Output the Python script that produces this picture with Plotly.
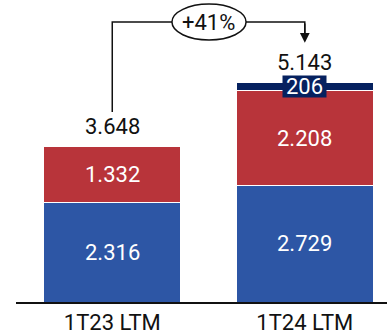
import plotly.graph_objects as go

categories = ["1T23 LTM", "1T24 LTM"]
blue_vals = [2316, 2729]
red_vals = [1332, 2208]
navy_vals = [0, 206]
growth_label = "+41%"

BLUE = "#2D56A5"
RED = "#B8343A"
NAVY = "#06215F"
FONT = "Roboto"
FS = 22

def fmt(v):
    return f"{v:,}".replace(",", ".")

totals = [b + r + n for b, r, n in zip(blue_vals, red_vals, navy_vals)]
xs = list(range(len(categories)))

fig = go.Figure()
for vals, col in [(blue_vals, BLUE), (red_vals, RED), (navy_vals, NAVY)]:
    fig.add_trace(go.Bar(x=xs, y=vals, width=0.71, marker=dict(color=col, line=dict(color="white", width=1)),
                         hoverinfo="skip", showlegend=False))

ann = []
for i in xs:
    ann.append(dict(x=i, y=blue_vals[i] / 2, text=fmt(blue_vals[i]), showarrow=False,
                    font=dict(color="white", size=FS, family=FONT)))
    ann.append(dict(x=i, y=blue_vals[i] + red_vals[i] / 2, text=fmt(red_vals[i]), showarrow=False,
                    font=dict(color="white", size=FS, family=FONT)))
    if navy_vals[i] > 0:
        ann.append(dict(x=i, y=blue_vals[i] + red_vals[i] + navy_vals[i] / 2, text=fmt(navy_vals[i]),
                        showarrow=False, bgcolor=NAVY, borderpad=0, height=21, width=43,
                        font=dict(color="white", size=FS, family=FONT)))
    ann.append(dict(x=i, y=totals[i], text=fmt(totals[i]), showarrow=False, yanchor="bottom", yshift=5,
                    font=dict(color="#111", size=FS, family=FONT)))

# arrow geometry in data coordinates
y_top = 6548
y_start = totals[0] + 795
ann.append(dict(x=1, y=totals[1] + 920, ax=1, ay=y_top, axref="x", ayref="y", xref="x", yref="y",
                showarrow=True, arrowhead=2, arrowsize=1.3, arrowwidth=1.5, arrowcolor="#111", text=""))
ann.append(dict(x=0.5, y=y_top, text=growth_label, showarrow=False,
                font=dict(color="#111", size=FS, family=FONT)))

shapes = [
    dict(type="path", path=f"M 0 {y_start} L 0 {y_top} L 1 {y_top} L 1 {y_top - 300}",
         line=dict(color="#111", width=1.5)),
    dict(type="circle", xref="x", yref="y", x0=0.31, x1=0.695, y0=y_top - 420, y1=y_top + 420,
         fillcolor="white", line=dict(color="#111", width=1.5)),
]

fig.update_layout(
    barmode="stack",
    width=387, height=335,
    margin=dict(l=16, r=0, t=0, b=33),
    plot_bgcolor="white", paper_bgcolor="white",
    annotations=ann, shapes=shapes,
    xaxis=dict(range=[-0.5, 1.427], tickvals=xs, ticktext=categories, showgrid=False,
               showline=True, linecolor="#111", linewidth=1.5, ticks="",
               tickfont=dict(size=FS, color="#111", family=FONT), fixedrange=True),
    yaxis=dict(range=[0, 7063], visible=False, showgrid=False, fixedrange=True),
    font=dict(family=FONT),
)

fig.write_html("out.html", config=dict(displayModeBar=False))
